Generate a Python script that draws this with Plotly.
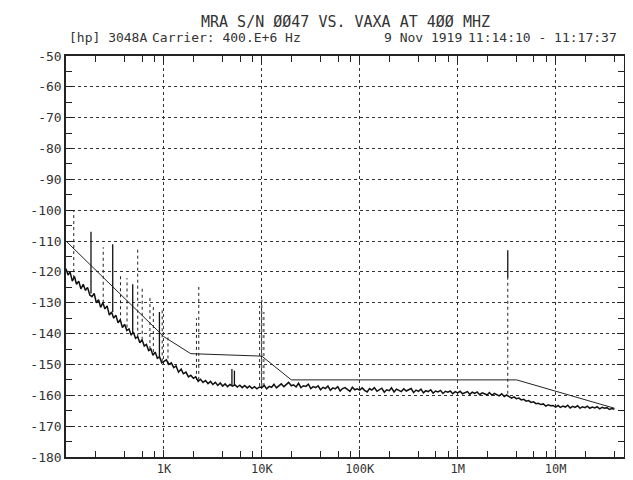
import plotly.graph_objects as go

# ---------------- data ----------------
title_line1 = "MRA S/N ØØ47 VS. VAXA AT 4ØØ MHZ"
hdr_instr = "[hp] 3048A"
hdr_carrier = "Carrier: 400.E+6 Hz"
hdr_date = "9 Nov 1919"
hdr_time = "11:14:10 - 11:17:37"

x_tick_vals = [1e3, 1e4, 1e5, 1e6, 1e7]
x_tick_text = ["1K", "10K", "100K", "1M", "10M"]
x_minor_vals = [200, 400, 600, 800, 2e3, 4e3, 6e3, 8e3, 2e4, 4e4, 6e4, 8e4,
                2e5, 4e5, 6e5, 8e5, 2e6, 4e6, 6e6, 8e6, 2e7, 4e7]
y_tick_vals = [-50, -60, -70, -80, -90, -100, -110, -120, -130, -140, -150, -160, -170, -180]
y_minor_vals = [-55, -65, -75, -85, -95, -105, -115, -125, -135, -145, -155, -165, -175]

# measured phase noise (dBc/Hz) vs offset frequency (Hz)
noise_freq = [
    100, 105, 110, 116, 122, 128, 135, 142, 150, 158, 166, 175, 184, 194, 204, 215, 226, 238, 250, 263,
    277, 292, 307, 323, 340, 358, 377, 397, 418, 440, 463, 487, 513, 540, 568, 598, 630, 663, 698, 735,
    773, 814, 857, 902, 950, 1000,
    1060, 1120, 1190, 1260, 1330, 1410, 1500, 1580, 1680, 1780, 1880, 2000, 2110, 2240, 2370, 2510,
    2660, 2820, 2990, 3160, 3350, 3550, 3760, 3980, 4220, 4470, 4730, 5010, 5310, 5620, 5960, 6310,
    6680, 7080, 7500, 7940, 8410, 8910, 9440, 10000,
    10600, 11200, 11900, 12600, 13300, 14100, 15000, 15800, 16800, 17800, 18800, 20000, 21100, 22400,
    23700, 25100, 26600, 28200, 29900, 31600, 33500, 35500, 37600, 39800, 42200, 44700, 47300, 50100,
    53100, 56200, 59600, 63100, 66800, 70800, 75000, 79400, 84100, 89100, 94400, 100000,
    106000, 112000, 119000, 126000, 133000, 141000, 150000, 158000, 168000, 178000, 188000, 200000,
    211000, 224000, 237000, 251000, 266000, 282000, 299000, 316000, 335000, 355000, 376000, 398000,
    422000, 447000, 473000, 501000, 531000, 562000, 596000, 631000, 668000, 708000, 750000, 794000,
    841000, 891000, 944000, 1000000,
    1060000, 1120000, 1190000, 1260000, 1330000, 1410000, 1500000, 1580000, 1680000, 1780000, 1880000,
    2000000, 2110000, 2240000, 2370000, 2510000, 2660000, 2820000, 2990000, 3160000, 3350000, 3550000,
    3760000, 3980000, 4220000, 4470000, 4730000, 5010000, 5310000, 5620000, 5960000, 6310000, 6680000,
    7080000, 7500000, 7940000, 8410000, 8910000, 9440000, 10000000,
    10600000, 11200000, 11900000, 12600000, 13300000, 14100000, 15000000, 15800000, 16800000, 17800000,
    18800000, 20000000, 21100000, 22400000, 23700000, 25100000, 26600000, 28200000, 29900000, 31600000,
    33500000, 35500000, 37600000, 39800000,
]
noise_dbc = [
    -119, -121, -120, -123, -121.5, -124, -123, -125.5, -124, -126, -125, -127.5, -128, -127, -130, -129,
    -131.5, -130, -132, -131, -134, -133, -135, -134, -136.5, -135.5, -138, -137, -139, -138.5, -140.5,
    -139.5, -141.5, -141, -143, -142, -144, -143.5, -145.5, -145, -147, -146, -148, -147.5, -149.5, -149,
    -148.5, -150, -149.5, -151, -150.5, -152.5, -151.5, -153, -152.5, -154, -153.5, -154.5, -154, -155.5,
    -154.8, -155.8, -155.2, -156.2, -155.5, -156.5, -155.8, -156.8, -156, -157, -156.3, -157.2, -156.5,
    -157, -156.6, -157.3, -156.7, -157.5, -156.8, -157.6, -157, -157.8, -157.2, -157.9, -157.3, -157.5,
    -156.8, -157.9, -157.1, -157.4, -156.4, -157.6, -156.9, -156.3, -157.2, -156.5, -155.8, -156.9,
    -156.6, -157.3, -156.1, -157.5, -156.9, -157.1, -156.4, -157.8, -157.2, -157.5, -156.9, -158.2,
    -157.4, -157.8, -157.0, -158.4, -157.6, -157.9, -157.2, -158.6, -157.8, -157.5, -158.1, -158.7,
    -157.4, -158.2, -157.9, -158.3,
    -157.6, -158.4, -158.9, -157.8, -158.3, -157.5, -158.7, -158.1, -157.7, -159.0, -158.2, -158.5,
    -157.6, -158.9, -158.0, -158.4, -158.8, -157.9, -158.6, -158.2, -157.8, -159.1, -158.3, -158.7,
    -158.0, -159.2, -158.5, -158.8, -158.2, -159.3, -158.6, -158.9, -158.4, -159.4, -158.7, -159.0,
    -158.6, -159.5, -158.8, -159.2,
    -158.7, -159.5, -159.1, -158.8, -159.7, -159.0, -159.4, -158.9, -159.8, -159.2, -159.5, -159.9,
    -159.1, -160.0, -159.4, -159.7, -160.2, -159.5, -160.4, -159.9, -160.3, -160.9, -160.5, -161.1,
    -160.9, -161.5, -161.3, -161.9, -161.7, -162.3, -162.1, -162.7, -162.6, -163.0, -162.8, -163.5,
    -163.1, -163.4, -163.3, -163.8,
    -163.3, -163.9, -163.5, -163.8, -163.2, -164.1, -163.6, -163.9, -163.4, -164.2, -163.7, -164.0,
    -163.5, -164.2, -163.8, -164.1, -163.7, -164.4, -163.9, -164.2, -164.0, -164.6, -164.3, -164.5,
]

# spec / asymptote line
limit_freq = [100, 1000, 1880, 10000, 20000, 4000000, 40000000]
limit_dbc = [-110, -141, -146.5, -147.3, -155, -155, -164.2]

# spurs drawn dotted: frequency, top level, bottom level
spur_dot_freq = [120, 240, 360, 420, 540, 600, 720, 780, 960, 1100, 2150, 2270, 9500, 10000, 10500, 3250000]
spur_dot_top = [-100, -112, -121, -122, -112, -125, -128, -131, -132, -140, -135, -124, -131, -129, -133, -122]
spur_dot_base = [-122, -130, -136, -138, -141, -142, -145, -146, -149, -150, -155, -155, -157, -157, -157, -159.5]

# spurs drawn solid
spur_sol_freq = [180, 300, 480, 900, 4950, 5250, 3250000]
spur_sol_top = [-107, -111, -124, -133, -151.5, -152, -113]
spur_sol_base = [-127, -133, -140, -148, -156.8, -157, -122]


def segs(freqs, tops, bases):
    xs, ys = [], []
    for f, t, b in zip(freqs, tops, bases):
        xs += [f, f, None]
        ys += [b, t, None]
    return xs, ys


fig = go.Figure()

sx, sy = segs(spur_dot_freq, spur_dot_top, spur_dot_base)
fig.add_trace(go.Scatter(x=sx, y=sy, mode="lines",
                         line=dict(color="#222", width=1, dash="dot"), hoverinfo="skip"))
sx, sy = segs(spur_sol_freq, spur_sol_top, spur_sol_base)
fig.add_trace(go.Scatter(x=sx, y=sy, mode="lines",
                         line=dict(color="#111", width=1.3), hoverinfo="skip"))

fig.add_trace(go.Scatter(x=limit_freq, y=limit_dbc, mode="lines",
                         line=dict(color="#222", width=1)))
fig.add_trace(go.Scatter(x=noise_freq, y=noise_dbc, mode="lines",
                         line=dict(color="#111", width=1.5)))

mono = "DejaVu Sans Mono"
txt = "#333"

fig.update_layout(
    width=633, height=480,
    margin=dict(l=58, r=17, t=48, b=18),
    paper_bgcolor="white", plot_bgcolor="white",
    showlegend=False,
    font=dict(family=mono, size=12, color=txt),
)

fig.update_xaxes(
    type="log", range=[2, 7.69897],
    tickmode="array", tickvals=x_tick_vals, ticktext=x_tick_text,
    ticks="inside", ticklen=7, tickcolor="#222", tickwidth=1,
    showgrid=True, gridcolor="#333", gridwidth=1, griddash="dot",
    showline=True, linecolor="#222", linewidth=1.5, mirror="ticks",
    minor=dict(tickmode="array", tickvals=x_minor_vals, ticks="inside", ticklen=6,
               tickcolor="#222", showgrid=False),
    tickfont=dict(family=mono, size=12, color=txt),
    zeroline=False,
)
fig.update_yaxes(
    range=[-180, -50],
    tickmode="array", tickvals=y_tick_vals, ticktext=[str(v) for v in y_tick_vals],
    ticks="inside", ticklen=7, tickcolor="#222",
    showgrid=True, gridcolor="#333", gridwidth=1, griddash="dot",
    showline=True, linecolor="#222", linewidth=1.5, mirror="ticks",
    minor=dict(tickmode="array", tickvals=y_minor_vals, ticks="inside", ticklen=6,
               tickcolor="#222", showgrid=False),
    tickfont=dict(family=mono, size=13, color=txt),
    zeroline=False,
)

fig.add_annotation(text=title_line1, xref="paper", yref="paper",
                   x=(337 - 58) / 558, y=(480 - 13 - 18) / 414,
                   xanchor="center", yanchor="middle", showarrow=False,
                   font=dict(family=mono, size=15, color=txt))

hdr = [(hdr_instr, 59), (hdr_carrier, 142), (hdr_date, 374), (hdr_time, 458)]
for t, x0 in hdr:
    fig.add_annotation(text=t, xref="paper", yref="paper",
                       x=(x0 - 58) / 558, y=(480 - 29 - 18) / 414,
                       xanchor="left", yanchor="middle", showarrow=False,
                       font=dict(family=mono, size=13, color=txt))

fig.write_html("out.html")
